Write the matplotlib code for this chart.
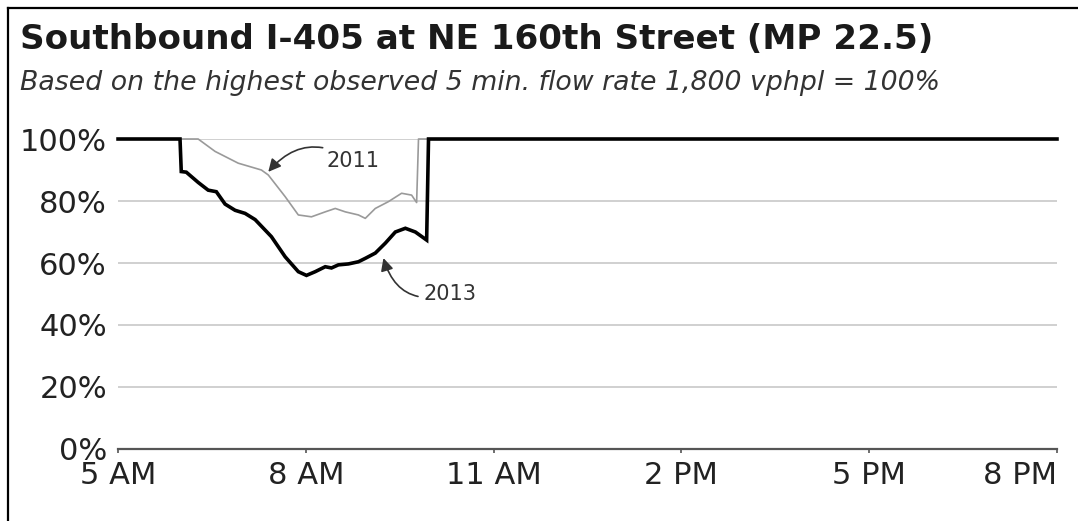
import matplotlib
matplotlib.use("Agg")
import matplotlib.pyplot as plt
from matplotlib.lines import Line2D

# ---------------------------------------------------------
# data (hour of day, % of max flow)
# ---------------------------------------------------------
hours_2013 = [5.0, 5.99, 6.01, 6.09, 6.28, 6.44, 6.57, 6.71, 6.87, 7.03, 7.19,
              7.45, 7.67, 7.88, 8.01, 8.15, 8.31, 8.41, 8.52, 8.68, 8.84, 8.95,
              9.11, 9.27, 9.43, 9.59, 9.75, 9.93, 9.96, 20.0]
flow_2013 = [100, 100, 89.5, 89.3, 86, 83.5, 83, 79, 77, 76, 74,
             68.5, 62, 57.2, 56, 57.2, 58.8, 58.4, 59.4, 59.7, 60.4, 61.5,
             63.2, 66.4, 70, 71.2, 70, 67.4, 100, 100]

hours_2011 = [5.0, 6.28, 6.55, 6.92, 7.29, 7.4, 7.67, 7.88, 8.09, 8.31, 8.47,
              8.63, 8.84, 8.95, 9.11, 9.32, 9.53, 9.69, 9.77, 9.8, 20.0]
flow_2011 = [100, 100, 96, 92.2, 90, 88.4, 81.4, 75.5, 74.9, 76.5, 77.6,
             76.5, 75.5, 74.4, 77.6, 79.8, 82.5, 81.9, 79.5, 100, 100]

y_ticks = [0, 20, 40, 60, 80, 100]
x_ticks = [5, 8, 11, 14, 17, 20]
x_labels = ['5 AM', '8 AM', '11 AM', '2 PM', '5 PM', '8 PM']

title = 'Southbound I-405 at NE 160th Street (MP 22.5)'
subtitle = 'Based on the highest observed 5 min. flow rate 1,800 vphpl = 100%'

plt.rcParams['font.family'] = ['DejaVu Sans']

fig = plt.figure(figsize=(10.78, 5.21), dpi=100)
ax = fig.add_axes([0.1095, 0.1382, 0.871, 0.595])

ax.plot(hours_2011, flow_2011, color='#9a9a9a', linewidth=1.2, zorder=3, clip_on=False)
ax.plot(hours_2013, flow_2013, color='black', linewidth=2.6, zorder=4, clip_on=False,
        solid_joinstyle='miter')

ax.set_xlim(5, 20)
ax.set_ylim(0, 100)
ax.set_yticks(y_ticks)
ax.set_yticklabels([f'{v}%' for v in y_ticks])
ax.set_xticks(x_ticks)
ax.set_xticklabels(x_labels)
# last label sits flush with the right end of the axis
ax.get_xticklabels()[-1].set_horizontalalignment('right')

ax.grid(axis='y', color='#d0d0d0', linewidth=1.4)
ax.set_axisbelow(True)
for s in ['top', 'right', 'left']:
    ax.spines[s].set_visible(False)
ax.spines['bottom'].set_color('#555555')
ax.spines['bottom'].set_linewidth(1.6)
ax.tick_params(axis='y', length=0, pad=8, labelsize=22, colors='#222222')
ax.tick_params(axis='x', length=3, width=1.2, color='#555555', pad=6, labelsize=22,
               labelcolor='#222222')

# annotations
ax.annotate('2011', xy=(7.4, 89.4), xytext=(8.33, 92.9), fontsize=15, color='#333333',
            va='center', ha='left',
            arrowprops=dict(arrowstyle='-|>,head_length=0.5,head_width=0.25', color='#333333',
                            lw=1.2, connectionstyle='arc3,rad=0.45', shrinkA=2, shrinkB=0))
ax.annotate('2013', xy=(9.24, 61.6), xytext=(9.88, 50.0), fontsize=15, color='#333333',
            va='center', ha='left',
            arrowprops=dict(arrowstyle='-|>,head_length=0.5,head_width=0.25', color='#333333',
                            lw=1.2, connectionstyle='arc3,rad=-0.5', shrinkA=2, shrinkB=0))

fig.text(0.019, 0.906, title, fontsize=24.6, fontweight='bold', color='#1a1a1a', va='baseline')
fig.text(0.019, 0.827, subtitle, fontsize=19.3, style='italic', color='#333333', va='baseline')

# frame edges (top and left)
fig.add_artist(Line2D([0.0075, 1.0], [0.985, 0.985], transform=fig.transFigure,
                      color='black', linewidth=1.6))
fig.add_artist(Line2D([0.0075, 0.0075], [0.0, 0.985], transform=fig.transFigure,
                      color='black', linewidth=1.6))

fig.savefig('out.png', dpi=100, facecolor='white')
